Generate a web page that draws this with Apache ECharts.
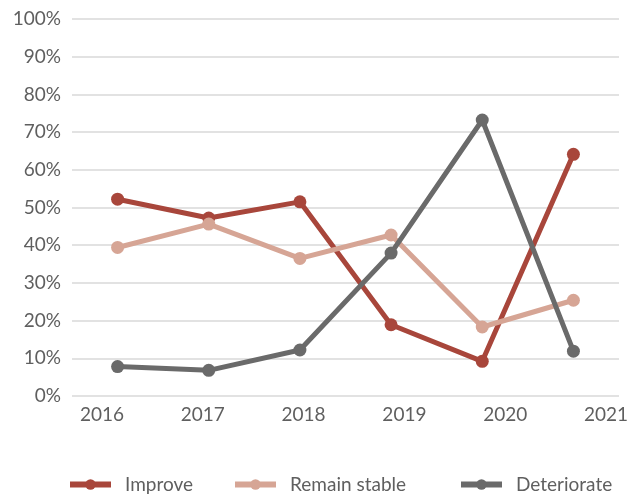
<!DOCTYPE html>
<html>
<head>
<meta charset="utf-8">
<script src="https://cdn.jsdelivr.net/npm/echarts@6/dist/echarts.min.js"></script>
<style>html,body{margin:0;padding:0;background:#fff}#c{width:638px;height:494px}</style>
</head>
<body>
<div id="c"></div>
<script>
const years = ['2016','2017','2018','2019','2020','2021'];
const improve = [52.2, 47.2, 51.5, 18.9, 9.2, 64.1];
const remainStable = [39.4, 45.6, 36.5, 42.7, 18.3, 25.4];
const deteriorate = [7.8, 6.8, 12.2, 37.9, 73.2, 11.9];
const seriesNames = ['Improve', 'Remain stable', 'Deteriorate'];
const colors = ['#a8463b', '#d6a595', '#6a6a6a'];

const font = 'Lato, "Noto Sans", sans-serif';
const chart = echarts.init(document.getElementById('c'));

function mkSeries(name, data, color) {
  return {
    name: name, type: 'line', data: data,
    xAxisIndex: 0, yAxisIndex: 0,
    symbol: 'circle', symbolSize: 13,
    lineStyle: { width: 5, color: color },
    itemStyle: { color: color },
    animation: false
  };
}

function mkLegend(name, left) {
  return {
    data: [name], left: left, top: 475, padding: 0,
    itemWidth: 41, itemHeight: 13,
    lineStyle: { width: 6 },
    textStyle: { fontFamily: font, fontSize: 19, color: '#5f5f5f', padding: [0, 0, 0, 9] }
  };
}

chart.setOption({
  animation: false,
  grid: [
    { left: 72, right: 19, top: 19, bottom: 98 },
    { left: 102, right: 32, top: 19, bottom: 98 }
  ],
  legend: [mkLegend(seriesNames[0], 67), mkLegend(seriesNames[1], 232), mkLegend(seriesNames[2], 458)],
  xAxis: [
    { type: 'category', data: years, gridIndex: 0, boundaryGap: true,
      axisLine: { show: false }, axisTick: { show: false }, axisLabel: { show: false } },
    { type: 'category', data: years, gridIndex: 1, boundaryGap: false,
      axisLine: { show: false }, axisTick: { show: false },
      axisLabel: { show: true, margin: 9, fontFamily: font, fontSize: 19, color: '#5f5f5f' } }
  ],
  yAxis: [
    { type: 'value', gridIndex: 0, min: 0, max: 100, interval: 10,
      axisLine: { show: false }, axisTick: { show: false },
      axisLabel: { formatter: '{value}%', margin: 11, fontFamily: font, fontSize: 19, color: '#5f5f5f' },
      splitLine: { lineStyle: { color: '#d9d9d9', width: 1.5 } } },
    { type: 'value', gridIndex: 1, min: 0, max: 100, show: false, splitLine: { show: false } }
  ],
  series: [
    mkSeries(seriesNames[0], improve, colors[0]),
    mkSeries(seriesNames[1], remainStable, colors[1]),
    mkSeries(seriesNames[2], deteriorate, colors[2])
  ]
});
</script>
</body>
</html>
